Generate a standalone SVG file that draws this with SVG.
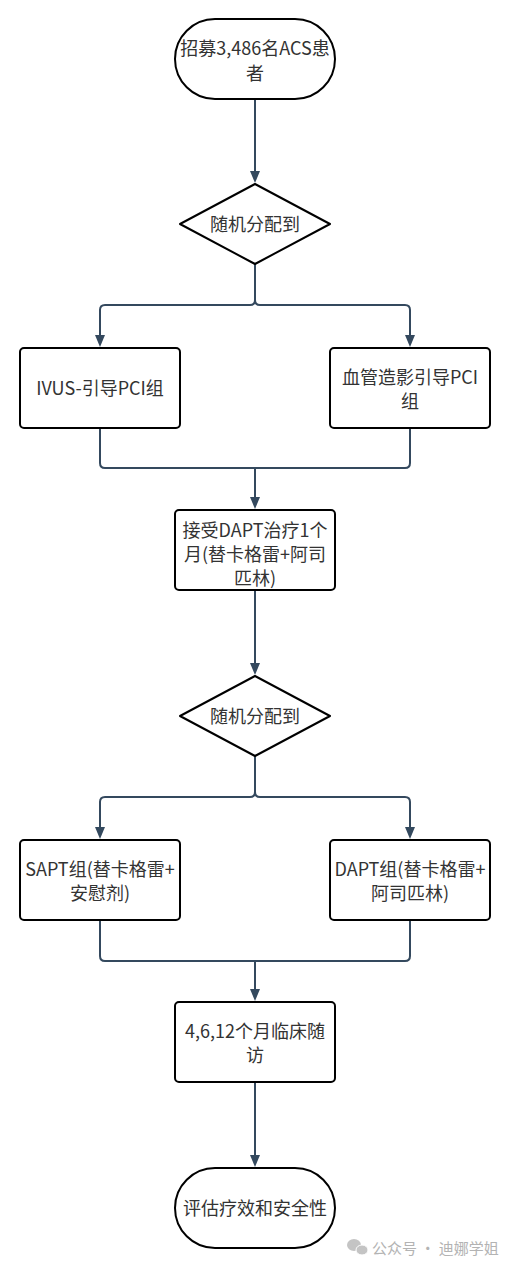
<svg xmlns="http://www.w3.org/2000/svg" width="510" height="1268" viewBox="0 0 510 1268">
<style>
.shape{fill:#fff;stroke:#000;stroke-width:2}
.t{font-family:"Noto Sans CJK SC","Noto Sans",sans-serif;font-size:18px;fill:#333;text-anchor:middle}
.c{fill:none;stroke:#34495e;stroke-width:2}
.wm{font-family:"Noto Sans CJK SC",sans-serif;font-size:15px;fill:#b3b3b3}
</style>
<rect width="510" height="1268" fill="#fff"/>
<g id="connectors">
<path class="c" d="M255,99 V173"/>
<path class="c" d="M255,264 V300 Q255,305 250,305 H105 Q100,305 100,310 V337"/>
<path class="c" d="M255,264 V300 Q255,305 260,305 H405 Q410,305 410,310 V337"/>
<path class="c" d="M100,428 V463 Q100,468 105,468 H405 Q410,468 410,463 V428"/>
<path class="c" d="M255,468 V499"/>
<path class="c" d="M255,590 V665"/>
<path class="c" d="M255,756 V792 Q255,797 250,797 H105 Q100,797 100,802 V829"/>
<path class="c" d="M255,756 V792 Q255,797 260,797 H405 Q410,797 410,802 V829"/>
<path class="c" d="M100,920 V956 Q100,961 105,961 H405 Q410,961 410,956 V920"/>
<path class="c" d="M255,961 V991"/>
<path class="c" d="M255,1082 V1157"/>
<g id="arrowheads" fill="#34495e">
<path d="M250,171 L260,171 L255,183 Z"/>
<path d="M95,335 L105,335 L100,347 Z"/>
<path d="M405,335 L415,335 L410,347 Z"/>
<path d="M250,497 L260,497 L255,509 Z"/>
<path d="M250,663 L260,663 L255,675 Z"/>
<path d="M95,827 L105,827 L100,839 Z"/>
<path d="M405,827 L415,827 L410,839 Z"/>
<path d="M250,989 L260,989 L255,1001 Z"/>
<path d="M250,1155 L260,1155 L255,1167 Z"/>
</g>
</g>
<g id="start">
<rect class="shape" x="175" y="19" width="160" height="80" rx="40" ry="40"/>
<text class="t" x="255" y="55">招募3,486名ACS患</text>
<text class="t" x="255" y="80">者</text>
</g>
<g id="random1">
<path class="shape" d="M255,184 L330,224 L255,264 L180,224 Z" stroke-linejoin="round"/>
<text class="t" x="255" y="231">随机分配到</text>
</g>
<g id="ivus">
<rect class="shape" x="20" y="348" width="160" height="80" rx="4"/>
<text class="t" x="100" y="395">IVUS-引导PCI组</text>
</g>
<g id="angio">
<rect class="shape" x="330" y="348" width="160" height="80" rx="4"/>
<text class="t" x="410" y="384">血管造影引导PCI</text>
<text class="t" x="410" y="408">组</text>
</g>
<g id="dapt1">
<rect class="shape" x="175" y="510" width="160" height="80" rx="4"/>
<text class="t" x="255" y="537">接受DAPT治疗1个</text>
<text class="t" x="255" y="561">月(替卡格雷+阿司</text>
<text class="t" x="255" y="585">匹林)</text>
</g>
<g id="random2">
<path class="shape" d="M255,676 L330,716 L255,756 L180,716 Z" stroke-linejoin="round"/>
<text class="t" x="255" y="723">随机分配到</text>
</g>
<g id="sapt">
<rect class="shape" x="20" y="840" width="160" height="80" rx="4"/>
<text class="t" x="100" y="876">SAPT组(替卡格雷+</text>
<text class="t" x="100" y="900">安慰剂)</text>
</g>
<g id="dapt2">
<rect class="shape" x="330" y="840" width="160" height="80" rx="4"/>
<text class="t" x="410" y="876">DAPT组(替卡格雷+</text>
<text class="t" x="410" y="900">阿司匹林)</text>
</g>
<g id="followup">
<rect class="shape" x="175" y="1002" width="160" height="80" rx="4"/>
<text class="t" x="255" y="1038">4,6,12个月临床随</text>
<text class="t" x="255" y="1062">访</text>
</g>
<g id="end">
<rect class="shape" x="175" y="1168" width="160" height="80" rx="40" ry="40"/>
<text class="t" x="255" y="1215">评估疗效和安全性</text>
</g>
<g id="watermark">
<ellipse cx="354" cy="1245" rx="7" ry="6" fill="#c4c4c4"/>
<ellipse cx="362" cy="1250" rx="6" ry="5" fill="#c4c4c4" stroke="#fff" stroke-width="1"/>
<text class="wm" x="372" y="1254">公众号 · 迪娜学姐</text>
</g>
</svg>
